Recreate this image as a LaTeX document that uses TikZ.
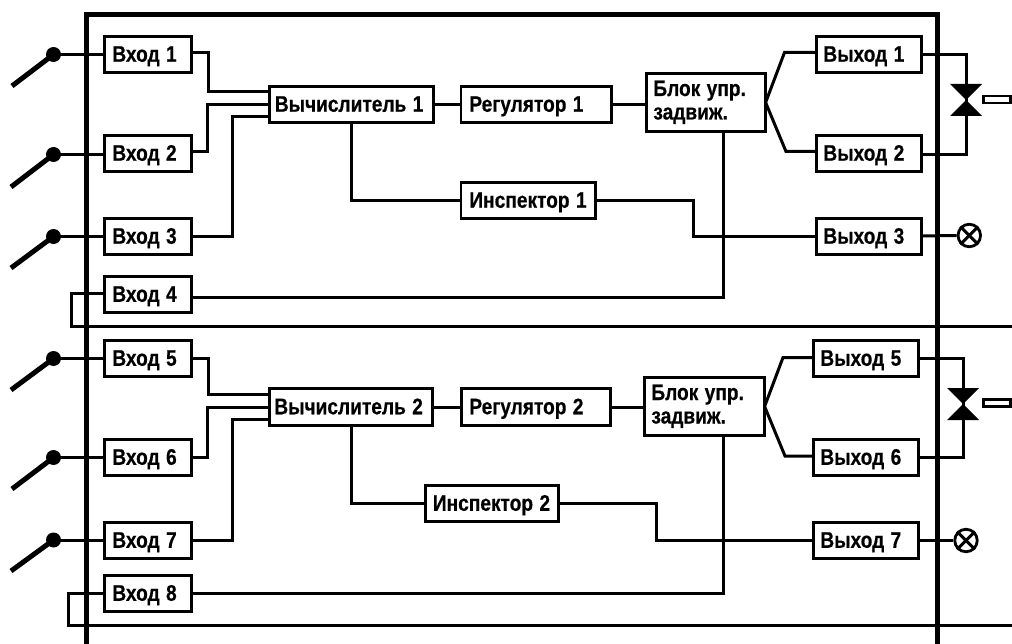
\documentclass[tikz,border=0pt]{standalone}
\usepackage{fontspec}
\setmainfont{Liberation Sans}[BoldFeatures={FakeBold=0.5}]
\newcommand{\nt}[1]{\scalebox{0.85}[1]{#1}}
\tikzset{
  wire/.style={line width=3pt,line join=miter},
  frameline/.style={line width=5pt,line join=miter},
  lever/.style={line width=5pt},
  dotm/.style={circle,fill=black,draw=none,minimum size=15pt,inner sep=0pt},
  lamp/.style={circle,draw=black,line width=2.8pt,fill=white,minimum size=22.5pt,inner sep=0pt},
  stem/.style={rectangle,draw=black,line width=2.6pt,inner sep=0pt},
  blockbox/.style={rectangle,draw=black,line width=2.8pt,inner ysep=0pt,outer sep=0pt,align=left,
    font=\bfseries\fontsize{22.5}{23.5}\selectfont,text height=14.5pt,text depth=0pt},
}
% name, x1, y1, x2, y2, left pad, text
\newcommand{\bx}[7]{\node[blockbox,inner xsep=#6pt,
   minimum width={(#4-#2-2.8)*1pt},minimum height={(#5-#3-2.8)*1pt},
   text width={(#4-#2-2.8-2*#6)*1pt}] (#1) at ({(#2+#4)/2},{(#3+#5)/2}) {\nt{#7}};}
% valve: centre x, centre y, half width, half height
\newcommand{\valve}[4]{\fill (#1-#3,#2-#4) -- (#1+#3,#2-#4) -- (#1-#3,#2+#4) -- (#1+#3,#2+#4) -- cycle;}
\begin{document}
\begin{tikzpicture}[x=1pt,y=-1pt]
\useasboundingbox (0,0) rectangle (1012,644);
% frame
\coordinate (fbl) at (86.5,650);
\coordinate (ftl) at (86.5,15);
\coordinate (ftr) at (937,15);
\coordinate (fbr) at (937,650);
\draw[frameline] (fbl) -- (ftl) -- (ftr) -- (fbr);
% inputs
\bx{i1}{103}{35}{193}{74}{8}{Вход 1}
\bx{i2}{103}{134}{193}{173}{8}{Вход 2}
\bx{i3}{103}{217}{193}{256}{8}{Вход 3}
\bx{i4}{103}{275}{193}{314}{8}{Вход 4}
\bx{i5}{103}{339}{193}{378}{8}{Вход 5}
\bx{i6}{103}{438}{193}{477}{8}{Вход 6}
\bx{i7}{103}{521}{193}{560}{8}{Вход 7}
\bx{i8}{103}{574}{193}{613}{8}{Вход 8}
% calc
\bx{c1}{268}{85}{435}{124}{5.5}{Вычислитель 1}
\bx{c2}{268}{387}{434}{427}{5}{Вычислитель 2}
\bx{r1}{459.5}{85}{613}{124}{8.5}{Регулятор 1}
\bx{r2}{460}{387}{612}{427}{8}{Регулятор 2}
\bx{s1}{459.5}{181}{597}{220}{8.5}{Инспектор 1}
\bx{s2}{424}{484}{560}{523}{7.5}{Инспектор 2}
\node[blockbox,inner xsep=7pt,minimum width=119.2pt,minimum height=58.2pt,text width=105.2pt,text depth=27.5pt] (b1) at (706,102.5) {\nt{Блок упр.}\\\nt{задвиж.}};
\node[blockbox,inner xsep=7pt,minimum width=120.2pt,minimum height=58.2pt,text width=106.2pt,text depth=27.5pt] (b2) at (704.5,406.5) {\nt{Блок упр.}\\\nt{задвиж.}};
% outputs
\bx{o1}{815}{35}{923}{74}{7}{Выход 1}
\bx{o2}{815}{134}{923}{173}{7}{Выход 2}
\bx{o3}{815}{217}{923}{256}{7}{Выход 3}
\bx{o5}{812}{339}{920}{378}{7}{Выход 5}
\bx{o6}{812}{438}{920}{477}{7}{Выход 6}
\bx{o7}{812}{521}{920}{560}{7}{Выход 7}
% switches
\node[dotm] (d1) at (53.5,54.5) {};
\node[dotm] (d2) at (53.5,154.5) {};
\node[dotm] (d3) at (53.5,236.5) {};
\node[dotm] (d5) at (53.5,358.5) {};
\node[dotm] (d6) at (53.5,457.5) {};
\node[dotm] (d7) at (53.5,540) {};
\coordinate (e1) at (12,86);
\coordinate (e2) at (11,187);
\coordinate (e3) at (11,268);
\coordinate (e5) at (11,390);
\coordinate (e6) at (12,489);
\coordinate (e7) at (11,571);
\foreach \k in {1,2,3,5,6,7}{
  \draw[lever] (e\k) -- (d\k.center);
  \draw[wire] (d\k.center) -- (i\k.west |- d\k.center);
}
% feedback lines
\coordinate (fb1) at (71,327);
\coordinate (fb1r) at (1012,327);
\coordinate (fb2) at (68,625);
\coordinate (fb2r) at (1012,625);
\draw[wire] ([yshift=0.5]i4.west) -| (fb1) -- (fb1r);
\draw[wire] (i8.west) -| (fb2) -- (fb2r);
% upper connectors
\draw[wire] ([yshift=1.5]i1.east) -- ++(17,0) |- ([yshift=13]c1.west);
\draw[wire] ([yshift=1.5]i2.east) -- ++(16,0) |- (c1.west);
\draw[wire] (i3.east) -- ++(41,0) |- ([yshift=-12]c1.west);
\draw[wire] ([yshift=-3]i4.east) -| (b1.south -| 723.5,0);
\draw[wire] (c1.south -| 351.5,0) |- (s1.west);
\draw[wire] (c1.east) -- (r1.west);
\draw[wire] (r1.east) -- (b1.west |- r1.east);
\draw[wire] (b1.east) -- (784.5,52.5) -- (o1.west |- 0,52.5);
\draw[wire] (b1.east) -- (786,151.5) -- (o2.west |- 0,151.5);
\draw[wire] (s1.east) -- (693,200.5) -- (693,236.5) -- (o3.west);
% lower connectors
\draw[wire] (i5.east) -- ++(17,0) |- ([yshift=13]c2.west);
\draw[wire] (i6.east) -- ++(16,0) |- (c2.west);
\draw[wire] (i7.east) -- ++(41,0) |- ([yshift=-12]c2.west);
\draw[wire] ([yshift=0.5]i8.east) -| (b2.south -| 723,0);
\draw[wire] (c2.south -| 351.5,0) |- (s2.west);
\draw[wire] (c2.east) -- (r2.west);
\draw[wire] (r2.east) -- (b2.west |- r2.east);
\draw[wire] (b2.east) -- (783,357.5) -- (o5.west |- 0,357.5);
\draw[wire] (b2.east) -- (785,456) -- (o6.west |- 0,456);
\draw[wire] (s2.east) -- (656,503.5) -- (656,540.5) -- (o7.west);
% valves
\coordinate (v1) at (966,100);
\coordinate (v2) at (963,404);
\draw[wire] (o1.east) -| (v1);
\draw[wire] ([yshift=-1]o2.east) -| (v1);
\draw[wire] (o5.east) -| (v2);
\draw[wire] (o6.east) -| (v2);
\valve{966}{100}{16}{16}
\valve{963}{404}{16}{16}
\node[stem,minimum width=26.5pt,minimum height=7pt] (a1) at (997,99.5) {};
\node[stem,minimum width=26.5pt,minimum height=7pt] (a2) at (997,403) {};
% lamps
\node[lamp] (l1) at (969.3,235.5) {};
\node[lamp] (l2) at (966,540.5) {};
\draw[wire] (l1.45) -- (l1.225);
\draw[wire] (l1.135) -- (l1.315);
\draw[wire] (l2.45) -- (l2.225);
\draw[wire] (l2.135) -- (l2.315);
\draw[wire] ([yshift=0.5]o3.east) -- (l1.west);
\draw[wire] (o7.east) -- (l2.west);
\end{tikzpicture}
\end{document}
